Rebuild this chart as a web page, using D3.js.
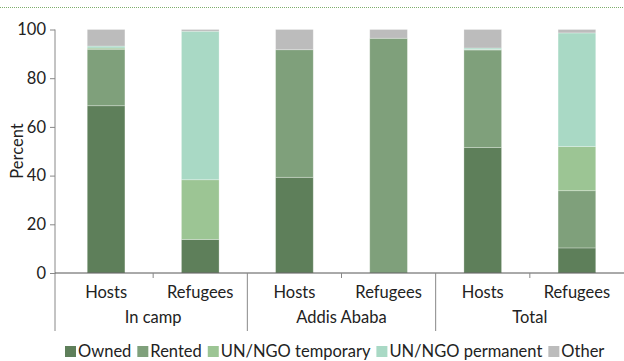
<!DOCTYPE html>
<html><head><meta charset="utf-8">
<script src="https://cdn.jsdelivr.net/npm/d3@7"></script>
<style>body{margin:0;background:#fff}svg{display:block}text{font-family:"Lato","Noto Sans",sans-serif}</style>
</head><body><svg id="c" width="624" height="361"></svg>
<script>
const groups = ["In camp","Addis Ababa","Total"];
const subcats = ["Hosts","Refugees"];
const seriesNames = ["Owned","Rented","UN/NGO temporary","UN/NGO permanent","Other"];
const seriesColors = ["#5e7f5a","#7fa07b","#9cc594","#a9d9c5","#bcbcbc"];
const owned     = [68.7, 13.8, 39.3, 0,    51.5, 10.3];
const rented    = [23.2, 0,    52.4, 96.4, 40.1, 23.5];
const unTemp    = [0.5,  24.5, 0,    0,    0.2,  18.1];
const unPerm    = [0.8,  61.0, 0,    0,    0.6,  46.7];
const other     = [6.8,  0.7,  8.3,  3.6,  7.6,  1.4];
const yTicks = [0,20,40,60,80,100];

const svg = d3.select("#c");
const W=624, FS=16.5;
const x0=59, x1=624, yTop=29.5, yBot=273;
const bars = [];
groups.forEach((g,gi)=>subcats.forEach((s,si)=>bars.push({key:g+"|"+s,g,s,i:gi*2+si})));
const table = bars.map((b,i)=>({key:b.key,Owned:owned[i],Rented:rented[i],"UN/NGO temporary":unTemp[i],"UN/NGO permanent":unPerm[i],Other:other[i]}));
const x = d3.scaleBand().domain(bars.map(b=>b.key)).range([x0,x1]).paddingInner(0.6).paddingOuter(0.3);
const y = d3.scaleLinear().domain([0,100]).range([yBot,yTop]);
const color = d3.scaleOrdinal().domain(seriesNames).range(seriesColors);

// top dotted line
svg.append("line").attr("x1",0).attr("x2",W).attr("y1",7.5).attr("y2",7.5)
  .attr("stroke","#7fae6e").attr("stroke-width",1).attr("stroke-dasharray","1,1");

const stack = d3.stack().keys(seriesNames)(table);
svg.append("g").selectAll("g").data(stack).join("g").attr("fill",d=>color(d.key))
  .selectAll("rect").data(d=>d.filter(p=>p[1]-p[0]>0)).join("rect")
  .attr("x",d=>x(d.data.key)).attr("width",x.bandwidth())
  .attr("y",d=>y(d[1])).attr("height",d=>y(d[0])-y(d[1]))
  .attr("stroke","rgba(255,255,255,0.35)").attr("stroke-width",0.8);

// y axis
const ya = svg.append("g").attr("transform","translate(55,0)")
  .call(d3.axisLeft(y).tickValues(yTicks).tickSize(5).tickPadding(4));
ya.select(".domain").attr("stroke","#888").attr("d",`M0,${yTop}V${yBot}`);
ya.selectAll(".tick line").attr("stroke","#888");
ya.selectAll("text").attr("font-size",FS).attr("fill","#222");
svg.append("line").attr("x1",55).attr("x2",55).attr("y1",yBot).attr("y2",331).attr("stroke","#888");
svg.append("text").attr("transform","translate(23,151) rotate(-90)").attr("text-anchor","middle")
  .attr("font-size",FS).attr("fill","#222").text("Percent");

// x baseline
svg.append("line").attr("x1",55).attr("x2",W).attr("y1",yBot).attr("y2",yBot).attr("stroke","#555");
const step = x.step();
bars.forEach((b,i)=>{
  const cx = x(b.key)+x.bandwidth()/2;
  svg.append("text").attr("x",cx).attr("y",298).attr("text-anchor","middle").attr("font-size",FS).attr("fill","#222").text(b.s);
  if(i<bars.length-1){
    const sx = cx+step/2;
    const long = (i%2===1);
    svg.append("line").attr("x1",sx).attr("x2",sx).attr("y1",yBot).attr("y2",long?331:278).attr("stroke","#888");
  }
});
groups.forEach((g,gi)=>{
  const a = x(g+"|Hosts")+x.bandwidth()/2, c = x(g+"|Refugees")+x.bandwidth()/2;
  svg.append("text").attr("x",(a+c)/2).attr("y",323).attr("text-anchor","middle").attr("font-size",FS).attr("fill","#222").text(g);
});

// legend
const lg = svg.append("g");
let lx = 65;
seriesNames.forEach((n,i)=>{
  lg.append("rect").attr("x",lx).attr("y",346).attr("width",11).attr("height",11).attr("fill",color(n));
  const t = lg.append("text").attr("x",lx+13).attr("y",357).attr("font-size",FS).attr("fill","#222").text(n);
  lx += 13 + t.node().getComputedTextLength() + 6;
});
</script></body></html>
